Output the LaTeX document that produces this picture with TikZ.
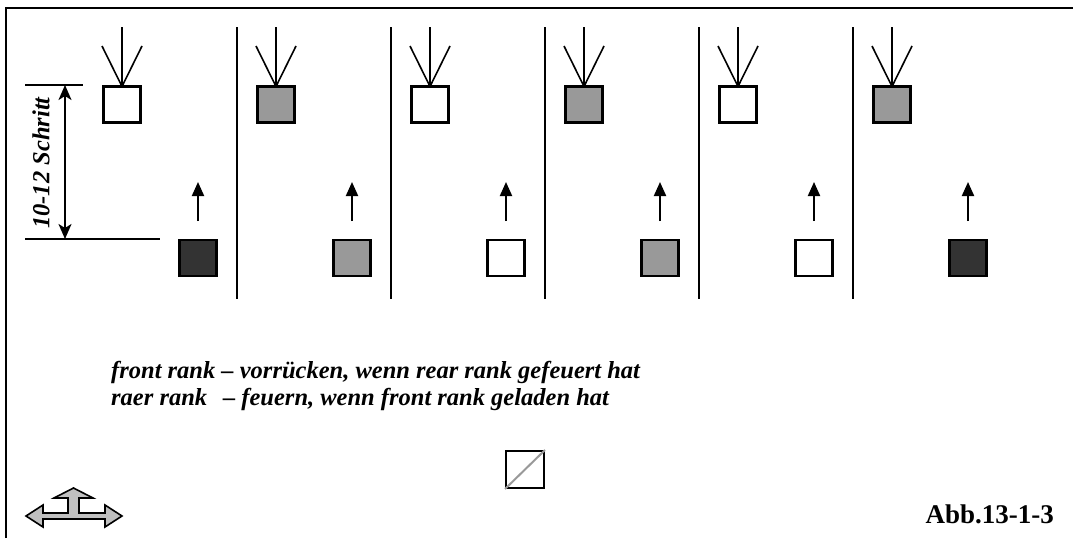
\documentclass[tikz,border=0pt]{standalone}
\usepackage{fontspec}
\setmainfont{Liberation Serif}
\usetikzlibrary{arrows.meta}
\definecolor{midgray}{HTML}{999999}
\definecolor{darkgray}{HTML}{333333}
\definecolor{icongray}{HTML}{C0C0C0}
\tikzset{
  soldier/.style={draw=black, line width=2.6pt, minimum width=37pt, minimum height=36pt, inner sep=0pt, outer sep=0pt},
  whitebox/.style={soldier, fill=white},
  graybox/.style={soldier, fill=midgray},
  darkbox/.style={soldier, fill=darkgray},
  fireline/.style={line width=1.6pt},
  advance/.style={line width=2pt, -{Triangle[length=14pt,width=12pt]}},
  divider/.style={line width=2pt},
  dimline/.style={line width=1.6pt},
  dimarrow/.style={line width=1.8pt, {Stealth[length=15pt,width=13pt,inset=4pt]}-{Stealth[length=15pt,width=13pt,inset=4pt]}},
  legend/.style={font=\fontsize{24.5}{29}\selectfont\bfseries\itshape, anchor=base west, inner sep=0pt},
}
\begin{document}
\begin{tikzpicture}[x=1pt,y=-1pt]
\useasboundingbox (0,0) rectangle (1073,538);
% frame (only top and left edges visible)
\draw[line width=2.2pt] (6,538) -- (6,8) -- (1073,8);

% top rank, incoming fire
\foreach \i/\st in {0/whitebox,1/graybox,2/whitebox,3/graybox,4/whitebox,5/graybox}{
  \pgfmathsetmacro{\cx}{122+154*\i}
  \node[\st] (t\i) at (\cx,104.5) {};
  \coordinate (tc\i) at (\cx,27);
  \coordinate (tl\i) at (\cx-20,46);
  \coordinate (tr\i) at (\cx+20,46);
  \draw[fireline] (tc\i) -- (t\i.north);
  \draw[fireline] (tl\i) -- (t\i.north);
  \draw[fireline] (tr\i) -- (t\i.north);
}
% bottom rank, advancing
\foreach \i/\st in {0/darkbox,1/graybox,2/whitebox,3/graybox,4/whitebox,5/darkbox}{
  \pgfmathsetmacro{\cx}{198+154*\i}
  \node[\st] (b\i) at (\cx,258) {};
  \coordinate (bs\i) at (\cx,221);
  \coordinate (be\i) at (\cx,182);
  \draw[advance] (bs\i) -- (be\i);
}
% dividers
\foreach \i in {1,...,5}{
  \coordinate (du\i) at (83+154*\i,27);
  \coordinate (dd\i) at (83+154*\i,299);
  \draw[divider] (du\i) -- (dd\i);
}
% dimension
\coordinate (d1a) at (25,85);
\coordinate (d1b) at (83,85);
\coordinate (d2a) at (25,239);
\coordinate (d2b) at (160,239);
\coordinate (da) at (65,85);
\coordinate (db) at (65,239);
\draw[dimline] (d1a) -- (d1b);
\draw[dimline] (d2a) -- (d2b);
\draw[dimarrow] (da) -- (db);
\node[rotate=90, font=\fontsize{24.5}{29}\selectfont\bfseries\itshape, inner sep=0pt] (dimtext) at (41,163) {10-12 Schritt};

% legend
\node[legend] (l1) at (111,378) {front rank -- vorrücken, wenn rear rank gefeuert hat};
\node[legend] (l2) at (111,405) {raer rank\hspace{0.4em} -- feuern, wenn front rank geladen hat};

% small symbol
\node[draw=black, line width=2pt, minimum width=38pt, minimum height=37pt, inner sep=0pt] (sym) at (525,469.5) {};
\draw[midgray, line width=2pt] (sym.south west) -- (sym.north east);

% figure number
\node[font=\fontsize{27}{32}\selectfont\bfseries, anchor=base east, inner sep=0pt] (abb) at (1054,523) {Abb.13-1-3};

% compass icon
\draw[fill=icongray, line width=1.6pt, line join=miter]
  (26,516) -- (43,505) -- (43,513) -- (68,513) -- (68,498) -- (54,498) -- (73.5,488) -- (93,498) -- (79,498) -- (79,513)
  -- (105,513) -- (105,505) -- (122,516) -- (105,527) -- (105,519) -- (43,519) -- (43,527) -- cycle;
\end{tikzpicture}
\end{document}
